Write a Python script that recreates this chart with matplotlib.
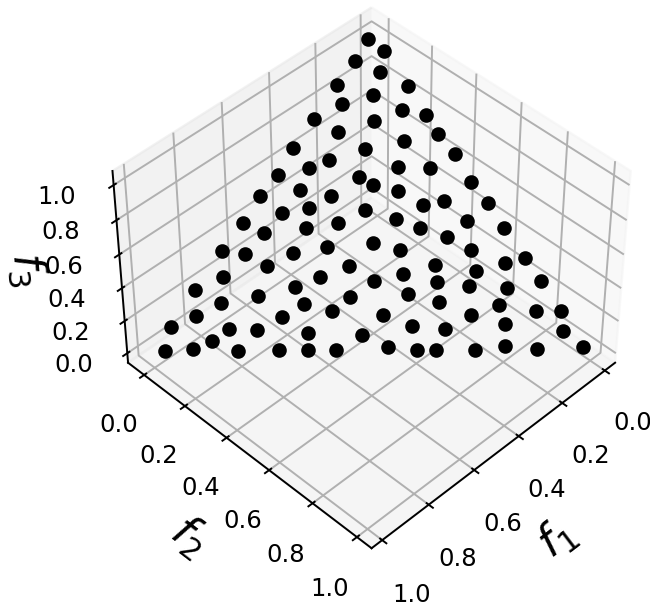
import matplotlib
matplotlib.use('Agg')
import matplotlib.pyplot as plt

# objective values of the solution set
f1 = [.021,.005,.086,.045,.163,.003,.096,.182,.054,.009,.267,.135,.234,.011,.098,.359,.199,.003,.298,.356,.152,
      .081,.436,.257,.236,.010,.410,.189,.509,.349,.101,.003,.155,.416,.487,.295,.590,.557,.454,.375,.327,.680,
      .634,.523,.436,.416,.602,.717,.801,.499,.571,.383,.668,.764,.578,.462,.524,.839,.647,.415,.914,.786,.724,
      .612,.494,.842,.963,.898,.799,.706,.638,.576,.237,.197,.081,.007,.150,.276,.115,.004,.059,.219,.137,.307,
      .241,.004,.175,.091,.325,.267,.136,.061,.005,.216,.367,.153,.297,.031,.455,.391,.348,.261,.187,.119,.010]
f2 = [-.022,.034,-.017,.059,-.021,.146,.080,.023,.171,.234,-.017,.123,.057,.294,.226,-.019,.150,.364,.083,.050,.254,
      .331,-.010,.179,.227,.446,.064,.294,-.018,.147,.416,.522,.373,.115,.060,.247,-.015,.051,.140,.207,.318,-.017,
      .042,.150,.220,.302,.112,.028,-.016,.253,.210,.385,.140,.066,.258,.355,.336,.029,.229,.460,-.013,.125,.192,
      .315,.443,.107,.014,.074,.181,.275,.343,.406,.334,.404,.501,.598,.480,.393,.559,.696,.658,.499,.603,.439,
      .531,.770,.613,.703,.484,.568,.712,.808,.867,.663,.544,.757,.625,.903,.523,.595,.639,.728,.791,.871,.975]
f3 = [1.001,.961,.931,.896,.858,.851,.824,.795,.775,.757,.750,.742,.709,.695,.676,.660,.651,.633,.619,.594,.594,
      .588,.574,.564,.537,.544,.526,.517,.509,.504,.483,.475,.472,.469,.453,.458,.425,.392,.406,.418,.355,.337,
      .324,.327,.344,.282,.286,.255,.215,.248,.219,.232,.192,.170,.164,.183,.140,.132,.124,.125,.099,.089,.084,
      .073,.063,.051,.023,.028,.020,.019,.019,.018,.429,.399,.418,.395,.370,.331,.326,.300,.283,.282,.260,.254,
      .228,.226,.212,.206,.191,.165,.152,.131,.128,.121,.089,.090,.078,.066,.022,.014,.013,.011,.022,.010,.015]
ticks = [0, .2, .4, .6, .8, 1]

fig = plt.figure(figsize=(650/175, 608/175), dpi=175)
ax = fig.add_axes([0.1062, 0.0902, 0.908, 0.9075], projection='3d')
ax.scatter(f1, f2, f3, c='k', s=25, depthshade=False)
ax.view_init(elev=44, azim=45)
ax.set_xlim(-0.049, 1.045)
ax.set_ylim(-0.08, 1.065)
ax.set_zlim(-0.06, 1.079)
ax.set_xticks(ticks)
ax.set_yticks(ticks)
ax.set_zticks(ticks)
ax.tick_params(axis='x', pad=5.5)
ax.tick_params(axis='y', pad=4.5)
ax.tick_params(axis='z', pad=5)
ax.set_xlabel('$f_1$', fontsize=18, labelpad=7)
ax.set_ylabel('$f_2$', fontsize=18, labelpad=6)
ax.set_zlabel('$f_3$', fontsize=18, labelpad=1)
fig.savefig('out.png')
